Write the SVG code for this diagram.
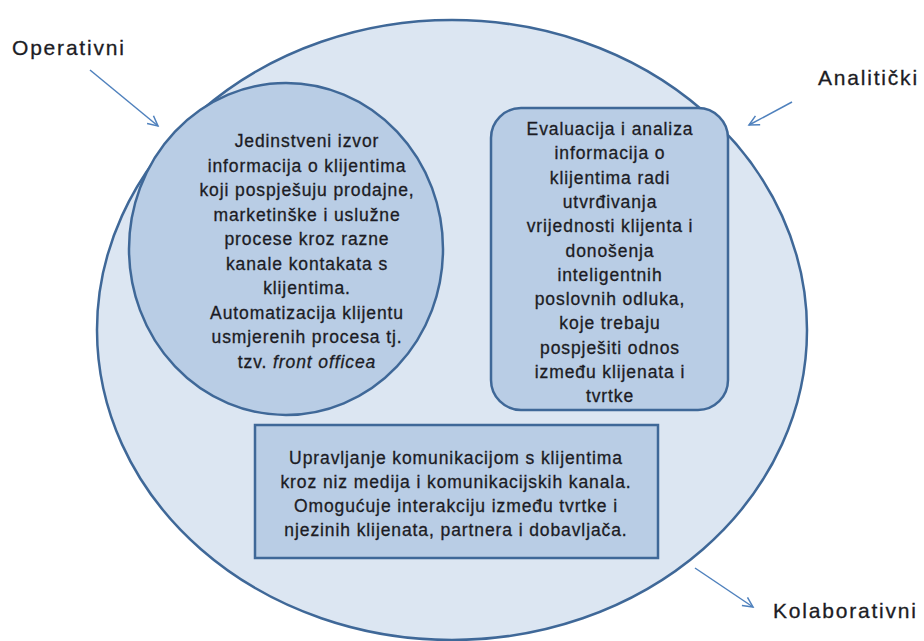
<svg xmlns="http://www.w3.org/2000/svg" width="924" height="641" viewBox="0 0 924 641">
<defs>
<marker id="arr" markerWidth="14" markerHeight="14" refX="11" refY="6" orient="auto" markerUnits="userSpaceOnUse">
<path d="M1,1 L11,6 L1,11" fill="none" stroke="#4f81bd" stroke-width="1.5"/>
</marker>
</defs>
<style>
.shape{stroke:#3f6898;stroke-width:2.5}
.outer{fill:#dce6f2}
.inner{fill:#b9cde5}
.t{font-family:"Liberation Sans",Arial,sans-serif;font-size:17.5px;letter-spacing:0.9px;fill:#1c1c24;stroke:#1c1c24;stroke-width:0.3px;text-anchor:middle}
.lbl{font-family:"Liberation Sans",Arial,sans-serif;font-size:21px;letter-spacing:1.8px;fill:#1c1c24;stroke:#1c1c24;stroke-width:0.3px}
.conn{stroke:#4f81bd;stroke-width:1.5;fill:none}
</style>
<rect width="924" height="641" fill="#ffffff"/>
<g id="kolaborativni-ellipse">
<ellipse class="shape outer" cx="452" cy="330" rx="355" ry="310"/>
</g>
<g id="operativni-node">
<ellipse class="shape inner" cx="286" cy="249" rx="157" ry="166"/>
<text class="t" x="307" y="147">Jedinstveni izvor</text>
<text class="t" x="307" y="171.5">informacija o klijentima</text>
<text class="t" x="307" y="196">koji pospješuju prodajne,</text>
<text class="t" x="307" y="220.5">marketinške i uslužne</text>
<text class="t" x="307" y="245">procese kroz razne</text>
<text class="t" x="307" y="269.5">kanale kontakata s</text>
<text class="t" x="307" y="294">klijentima.</text>
<text class="t" x="307" y="318.5">Automatizacija klijentu</text>
<text class="t" x="307" y="343">usmjerenih procesa tj.</text>
<text class="t" x="307" y="367.5">tzv. <tspan font-style="italic">front officea</tspan></text>
</g>
<g id="analiticki-node">
<rect class="shape inner" x="491" y="108" width="237" height="302" rx="30" ry="30"/>
<text class="t" x="610" y="135">Evaluacija i analiza</text>
<text class="t" x="610" y="159.3">informacija o</text>
<text class="t" x="610" y="183.6">klijentima radi</text>
<text class="t" x="610" y="207.9">utvrđivanja</text>
<text class="t" x="610" y="232.2">vrijednosti klijenta i</text>
<text class="t" x="610" y="256.5">donošenja</text>
<text class="t" x="610" y="280.8">inteligentnih</text>
<text class="t" x="610" y="305.1">poslovnih odluka,</text>
<text class="t" x="610" y="329.4">koje trebaju</text>
<text class="t" x="610" y="353.7">pospješiti odnos</text>
<text class="t" x="610" y="378">između klijenata i</text>
<text class="t" x="610" y="402.3">tvrtke</text>
</g>
<g id="kolaborativni-node">
<rect class="shape inner" x="255" y="425" width="403" height="133" stroke-width="3"/>
<text class="t" x="456" y="464">Upravljanje komunikacijom s klijentima</text>
<text class="t" x="456" y="488">kroz niz medija i komunikacijskih kanala.</text>
<text class="t" x="456" y="512">Omogućuje interakciju između tvrtke i</text>
<text class="t" x="456" y="536">njezinih klijenata, partnera i dobavljača.</text>
</g>
<g id="label-operativni"><text class="lbl" x="12" y="55">Operativni</text></g>
<g id="label-analiticki"><text class="lbl" x="818" y="85">Analitički</text></g>
<g id="label-kolaborativni"><text class="lbl" x="773" y="618">Kolaborativni</text></g>
<g id="connectors">
<line class="conn" x1="90" y1="70" x2="158" y2="126" marker-end="url(#arr)"/>
<line class="conn" x1="792" y1="102" x2="749" y2="125" marker-end="url(#arr)"/>
<line class="conn" x1="695" y1="568" x2="753" y2="607" marker-end="url(#arr)"/>
</g>
</svg>
